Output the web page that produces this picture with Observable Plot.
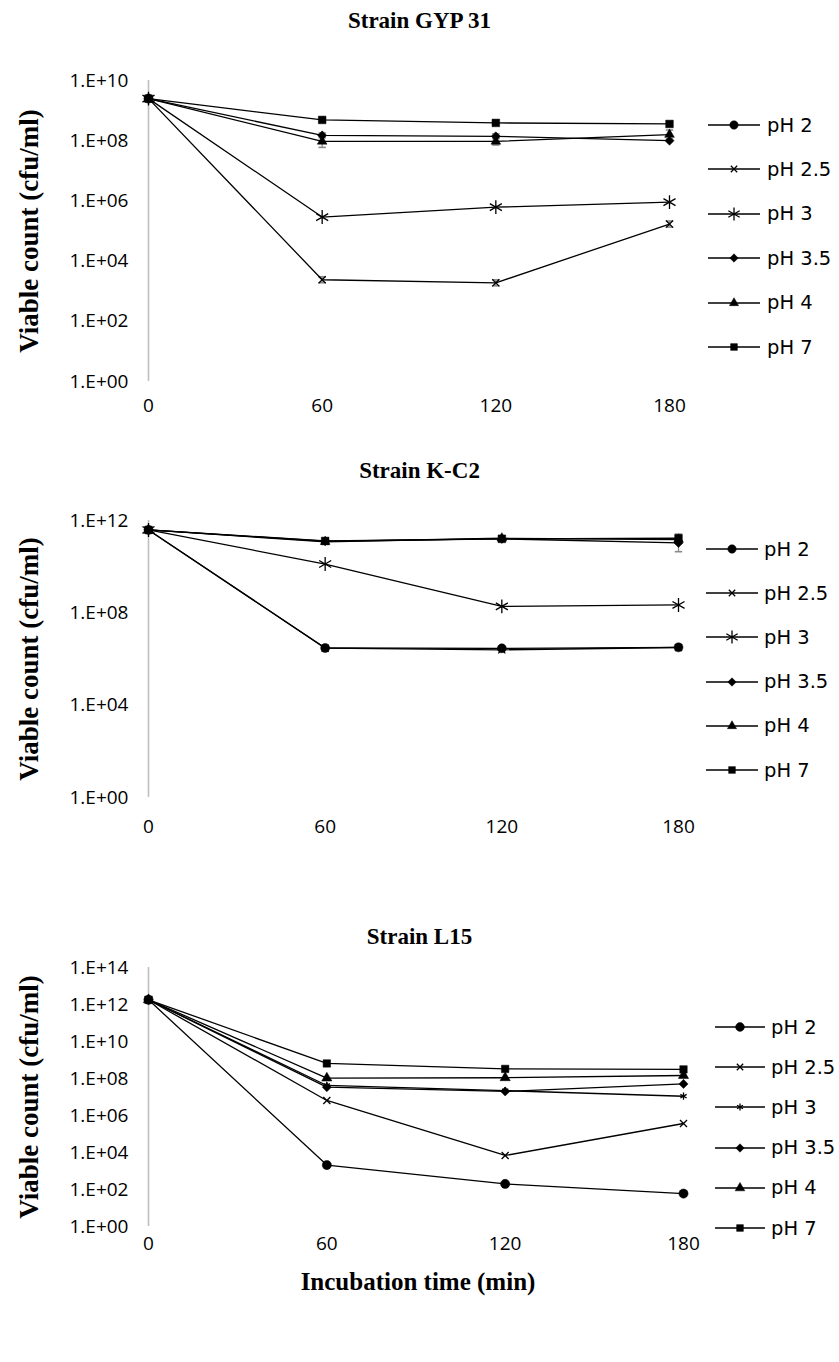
<!DOCTYPE html>
<html>
<head>
<meta charset="utf-8">
<script src="https://cdn.jsdelivr.net/npm/d3@7"></script>
<script src="https://cdn.jsdelivr.net/npm/@observablehq/plot@0.6"></script>
<style>
  body { margin: 0; background: #fff; }
  #fig { position: relative; width: 839px; height: 1362px; background: #fff; overflow: hidden; }
  .title { position: absolute; left: 0; width: 839px; text-align: center; line-height: 28px;
           font: bold 23px "Liberation Serif", "Times New Roman", serif; color: #000; }
  .axtitle { position: absolute; white-space: nowrap; line-height: 30px;
             font: bold 25px "Liberation Serif", "Times New Roman", serif; color: #000; }
  .ytitle { font-size: 27px; }
  .plotwrap { position: absolute; left: 0; }
  .leg { position: absolute; height: 24px; display: flex; align-items: center;
         font: 19.5px "DejaVu Sans", sans-serif; color: #000; white-space: nowrap; }
  .leg svg { display: block; }
</style>
</head>
<body>
<div id="fig"></div>
<script>
// Sampling times (min)
const times = [0, 60, 120, 180];
const phLevels = ["pH 2", "pH 2.5", "pH 3", "pH 3.5", "pH 4", "pH 7"];
const strainNames = ["Strain GYP 31", "Strain K-C2", "Strain L15"];

// Viable counts (cfu/ml); rows follow phLevels, columns follow times
const gyp31Counts = [
  [2.5e9, null, null, null],
  [2.5e9, 2.4e3, 1.9e3, 1.7e5],
  [2.5e9, 2.9e5, 6.2e5, 9.1e5],
  [2.5e9, 1.5e8, 1.4e8, 1.0e8],
  [2.5e9, 9.5e7, 9.5e7, 1.6e8],
  [2.5e9, 4.9e8, 3.9e8, 3.6e8]
];
const kc2Counts = [
  [3.9e11, 3.0e6, 2.9e6, 3.2e6],
  [3.9e11, 2.95e6, 2.5e6, 3.15e6],
  [3.9e11, 1.3e10, 1.9e8, 2.2e8],
  [3.9e11, 1.26e11, 1.6e11, 1.07e11],
  [3.9e11, 1.2e11, 1.7e11, 1.5e11],
  [3.9e11, 1.3e11, 1.6e11, 1.7e11]
];
const l15Counts = [
  [1.8e12, 2.1e3, 2.0e2, 6.0e1],
  [1.8e12, 6.5e6, 6.9e3, 3.7e5],
  [1.8e12, 4.2e7, 2.2e7, 1.1e7],
  [1.8e12, 3.4e7, 2.0e7, 5.1e7],
  [1.8e12, 1.05e8, 1.1e8, 1.45e8],
  [1.8e12, 6.5e8, 3.3e8, 3.1e8]
];

// Error-bar half widths, in log10 units
const gyp31Err = [
  [0, 0, 0, 0],
  [0, 0.1, 0.1, 0.1],
  [0, 0, 0, 0],
  [0, 0.08, 0.08, 0],
  [0, 0.2, 0.12, 0.15],
  [0, 0, 0, 0]
];
const kc2Err = [
  [0, 0.05, 0.05, 0],
  [0, 0, 0, 0],
  [0, 0, 0, 0],
  [0, 0, 0, 0.38],
  [0, 0, 0.12, 0],
  [0, 0.1, 0, 0]
];
const l15Err = [
  [0, 0, 0, 0],
  [0, 0, 0, 0],
  [0, 0, 0, 0],
  [0, 0, 0, 0],
  [0, 0, 0, 0],
  [0, 0, 0, 0]
];

// Y-axis ticks (cfu/ml)
const gyp31Ticks = [1e0, 1e2, 1e4, 1e6, 1e8, 1e10];
const kc2Ticks = [1e0, 1e4, 1e8, 1e12];
const l15Ticks = [1e0, 1e2, 1e4, 1e6, 1e8, 1e10, 1e12, 1e14];

// Marker styling for each pH series
const symbolNames = ["circle", "times", "asterisk", "diamond2", "triangle", "square"];
const filled = [true, false, false, true, true, true];
const d3Symbols = {
  circle: d3.symbolCircle, times: d3.symbolTimes, asterisk: d3.symbolAsterisk,
  diamond2: d3.symbolDiamond2, triangle: d3.symbolTriangle, square: d3.symbolSquare
};

const sci = d => "1.E+" + String(Math.round(Math.log10(d))).padStart(2, "0");

// Horizontal cap for error bars
const capSymbol = {
  draw(ctx, size) {
    const w = Math.sqrt(size) / 2;
    ctx.moveTo(-w, 0);
    ctx.lineTo(w, 0);
  }
};

const panels = [
  {
    name: strainNames[0], counts: gyp31Counts, err: gyp31Err, ticks: gyp31Ticks, ymax: 1e10,
    titleY: 22, top: 50, marginTop: 30, plotBottom: 381, marginBottom: 40, xRight: 669, xPad: 17,
    radii: [4.5, 3.3, 6.6, 4.1, 3.6, 4.3],
    legY: 125, legStep: 44.4, legX: 708, legLine: 52, legGap: 7, legRadii: [4.2, 3.0, 6.2, 3.8, 3.4, 3.8]
  },
  {
    name: strainNames[1], counts: kc2Counts, err: kc2Err, ticks: kc2Ticks, ymax: 1e12,
    titleY: 472, top: 500, marginTop: 20, plotBottom: 797, marginBottom: 45, xRight: 678, xPad: 22,
    radii: [4.5, 3.3, 6.6, 4.1, 3.6, 4.3],
    legY: 549, legStep: 44.2, legX: 706, legLine: 52, legGap: 6, legRadii: [4.2, 3.0, 6.2, 3.8, 3.4, 3.8]
  },
  {
    name: strainNames[2], counts: l15Counts, err: l15Err, ticks: l15Ticks, ymax: 1e14,
    titleY: 938, top: 950, marginTop: 17, plotBottom: 1226, marginBottom: 30, xRight: 683, xPad: 10,
    radii: [4.6, 3.3, 3.4, 4.1, 3.8, 4.2],
    legY: 1027, legStep: 40.2, legX: 715, legLine: 50, legGap: 6, legRadii: [4.4, 3.0, 3.2, 3.8, 3.6, 3.8]
  }
];

const fig = document.getElementById("fig");

function addTitle(text, cy) {
  const t = document.createElement("div");
  t.className = "title";
  t.style.top = (cy - 14) + "px";
  t.textContent = text;
  fig.appendChild(t);
}

function addYTitle(cx, cy) {
  const t = document.createElement("div");
  t.className = "axtitle ytitle";
  t.textContent = "Viable count (cfu/ml)";
  t.style.left = cx + "px";
  t.style.top = cy + "px";
  t.style.transform = "translate(-50%, -50%) rotate(-90deg)";
  fig.appendChild(t);
}

function addLegend(p) {
  phLevels.forEach((label, i) => {
    const row = document.createElement("div");
    row.className = "leg";
    row.style.left = p.legX + "px";
    row.style.top = (p.legY + i * p.legStep - 12) + "px";
    const svg = d3.create("svg").attr("width", p.legLine).attr("height", 24);
    svg.append("line").attr("x1", 0).attr("x2", p.legLine).attr("y1", 12).attr("y2", 12)
      .attr("stroke", "#000").attr("stroke-width", 1.3);
    const r = p.legRadii[i];
    svg.append("path")
      .attr("transform", `translate(${p.legLine / 2},12)`)
      .attr("d", d3.symbol(d3Symbols[symbolNames[i]], Math.PI * r * r)())
      .attr("fill", filled[i] ? "#000" : "none")
      .attr("stroke", "#000")
      .attr("stroke-width", filled[i] ? 0.5 : 1.3);
    row.appendChild(svg.node());
    const txt = document.createElement("span");
    txt.style.marginLeft = p.legGap + "px";
    txt.textContent = label;
    row.appendChild(txt);
    fig.appendChild(row);
  });
}

panels.forEach(p => {
  // long-format rows
  const rows = [];
  const errRows = [];
  phLevels.forEach((ph, i) => {
    times.forEach((t, j) => {
      const v = p.counts[i][j];
      rows.push({ph, idx: i, t, v});
      const e = p.err[i][j];
      if (v != null && e > 0) {
        errRows.push({t, lo: v / Math.pow(10, e), hi: v * Math.pow(10, e)});
      }
    });
  });

  const height = (p.plotBottom - p.top) + p.marginBottom;
  const marks = [
    Plot.ruleX([0], {stroke: "#bfbfbf", strokeWidth: 1.6}),
    Plot.ruleX(errRows, {x: "t", y1: "lo", y2: "hi", stroke: "#8a8a8a", strokeWidth: 1.3}),
    Plot.dot(errRows, {x: "t", y: "lo", symbol: capSymbol, r: 4.2, stroke: "#8a8a8a", strokeWidth: 1.6}),
    Plot.dot(errRows, {x: "t", y: "hi", symbol: capSymbol, r: 4.2, stroke: "#8a8a8a", strokeWidth: 1.6})
  ];
  phLevels.forEach((ph, i) => {
    const series = rows.filter(d => d.idx === i);
    marks.push(Plot.line(series, {x: "t", y: "v", stroke: "#000", strokeWidth: 1.3}));
  });
  phLevels.forEach((ph, i) => {
    const series = rows.filter(d => d.idx === i && d.v != null);
    marks.push(Plot.dot(series, {
      x: "t", y: "v", symbol: symbolNames[i], r: p.radii[i],
      fill: filled[i] ? "#000" : "none", stroke: "#000",
      strokeWidth: filled[i] ? 0.5 : 1.3
    }));
  });

  const chart = Plot.plot({
    width: 839,
    height,
    marginTop: p.marginTop,
    marginBottom: p.marginBottom,
    marginLeft: 148,
    marginRight: 839 - p.xRight,
    style: {fontFamily: "'Open Sans', sans-serif", fontSize: "19px", color: "#000", background: "#fff"},
    x: {domain: [0, 180], ticks: times, tickFormat: d => String(d), tickSize: 0, tickPadding: p.xPad, label: null},
    y: {type: "log", domain: [1, p.ymax], ticks: p.ticks, tickFormat: sci, tickSize: 0, tickPadding: 20, label: null},
    marks
  });

  const wrap = document.createElement("div");
  wrap.className = "plotwrap";
  wrap.style.top = p.top + "px";
  wrap.appendChild(chart);
  fig.appendChild(wrap);

  addTitle(p.name, p.titleY);
  addYTitle(29, (p.top + p.marginTop + p.plotBottom) / 2);
  addLegend(p);
});

// x-axis title under the last panel
const xt = document.createElement("div");
xt.className = "axtitle";
xt.style.left = "0px";
xt.style.width = "836px";
xt.style.textAlign = "center";
xt.style.top = (1283 - 15) + "px";
xt.textContent = "Incubation time (min)";
fig.appendChild(xt);
</script>
</body>
</html>
